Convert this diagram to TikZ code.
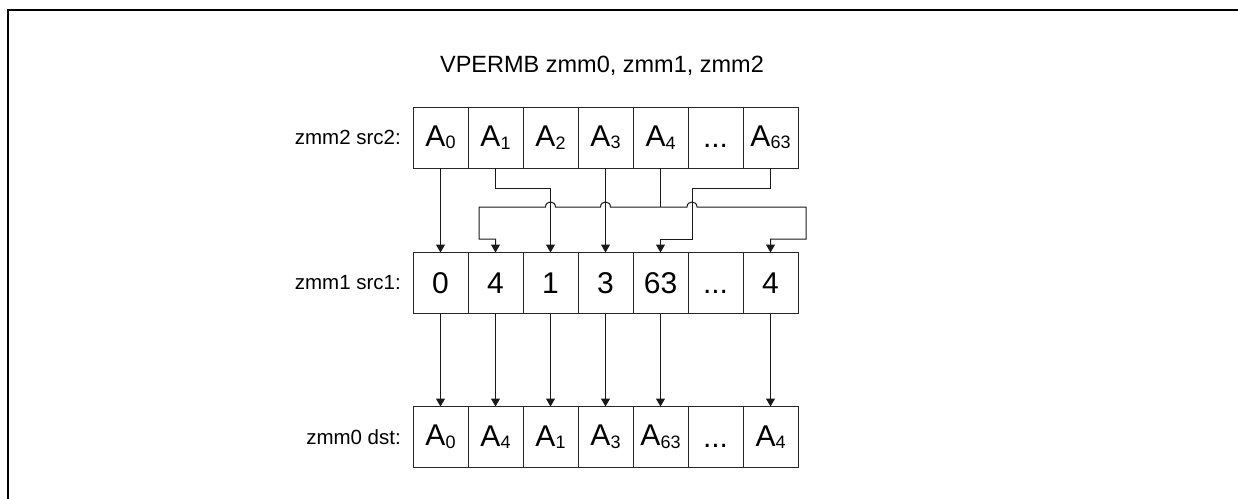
\documentclass[tikz,border=0pt]{standalone}
\usepackage{fontspec}
\setmainfont{Liberation Sans}
\usetikzlibrary{arrows.meta,calc}
\newcommand\Asub[1]{A\raisebox{-2.5pt}{\fontsize{18}{18}\selectfont #1}}
\newcommand\threedots{\vphantom{A}{.}{.}{.}}
\begin{document}
\begin{tikzpicture}[x=1pt,y=-1pt,
 cell/.style={draw=black!85,line width=1pt,minimum width=55pt,minimum height=61pt,inner sep=0pt,outer sep=0pt,font=\fontsize{30}{30}\selectfont},
 numcell/.style={cell,font=\fontsize{30}{30}\selectfont},
 rowlabel/.style={anchor=east,inner sep=0pt,font=\fontsize{20.5}{21}\selectfont},
 conn/.style={draw=black!90,line width=1pt},
 arr/.style={conn,-{Triangle[width=9pt,length=8pt]}},
]
\useasboundingbox (0,0) rectangle (1238,498);
\fill[white] (0,0) rectangle (1238,498);
\draw[line width=2pt] (8,500) -- (8,10) -- (1240,10);

\node[font=\fontsize{23.5}{24}\selectfont] (title) at (602,66) {VPERMB zmm0, zmm1, zmm2};

% row 1: zmm2 src2
\node[rowlabel] (l2) at (401,137.5) {zmm2 src2:};
\node[cell] (s2-0) at (440.5,137.5) {\Asub{0}};
\node[cell] (s2-1) at (495.5,137.5) {\Asub{1}};
\node[cell] (s2-2) at (550.5,137.5) {\Asub{2}};
\node[cell] (s2-3) at (605.5,137.5) {\Asub{3}};
\node[cell] (s2-4) at (660.5,137.5) {\Asub{4}};
\node[cell] (s2-5) at (715.5,137.5) {\threedots};
\node[cell] (s2-6) at (770.5,137.5) {\Asub{63}};

% row 2: zmm1 src1
\node[rowlabel] (l1) at (401,283) {zmm1 src1:};
\node[numcell] (s1-0) at (440.5,283) {0};
\node[numcell] (s1-1) at (495.5,283) {4};
\node[numcell] (s1-2) at (550.5,283) {1};
\node[numcell] (s1-3) at (605.5,283) {3};
\node[numcell] (s1-4) at (660.5,283) {63};
\node[numcell] (s1-5) at (715.5,283) {\threedots};
\node[numcell] (s1-6) at (770.5,283) {4};

% row 3: zmm0 dst
\node[rowlabel] (l0) at (401,437) {zmm0 dst:};
\node[cell] (d-0) at (440.5,437) {\Asub{0}};
\node[cell] (d-1) at (495.5,437) {\Asub{4}};
\node[cell] (d-2) at (550.5,437) {\Asub{1}};
\node[cell] (d-3) at (605.5,437) {\Asub{3}};
\node[cell] (d-4) at (660.5,437) {\Asub{63}};
\node[cell] (d-5) at (715.5,437) {\threedots};
\node[cell] (d-6) at (770.5,437) {\Asub{4}};

% bend points
\coordinate (b1) at (550.5,188);
\coordinate (c1) at (692,188);
\coordinate (c2) at (692,239);
\coordinate (j) at (660.5,207);
\coordinate (jl) at (479,207);
\coordinate (jr) at (806,207);
\coordinate (jl2) at (479,239);
\coordinate (jr2) at (806,239);

% connectors src2 -> src1
\draw[arr] (s2-0.south) -- (s1-0.north);
\draw[arr] (s2-1.south) |- (b1) -- (s1-2.north);
\draw[arr] (s2-3.south) -- (s1-3.north);
\draw[arr] (s2-6.south) |- (c1) -- (c2) -| (s1-4.north);
\draw[conn] (s2-4.south) -- (j);
\draw[arr] (j) -- (610.5,207) .. controls (610.5,200.3) and (600.5,200.3) .. (600.5,207)
  -- (555.5,207) .. controls (555.5,200.3) and (545.5,200.3) .. (545.5,207)
  -- (jl) -- (jl2) -| (s1-1.north);
\draw[arr] (j) -- (687,207) .. controls (687,200.3) and (697,200.3) .. (697,207)
  -- (jr) -- (jr2) -| (s1-6.north);

% connectors src1 -> dst
\foreach \i in {0,1,2,3,4,6}
  \draw[arr] (s1-\i.south) -- (d-\i.north);
\end{tikzpicture}
\end{document}
